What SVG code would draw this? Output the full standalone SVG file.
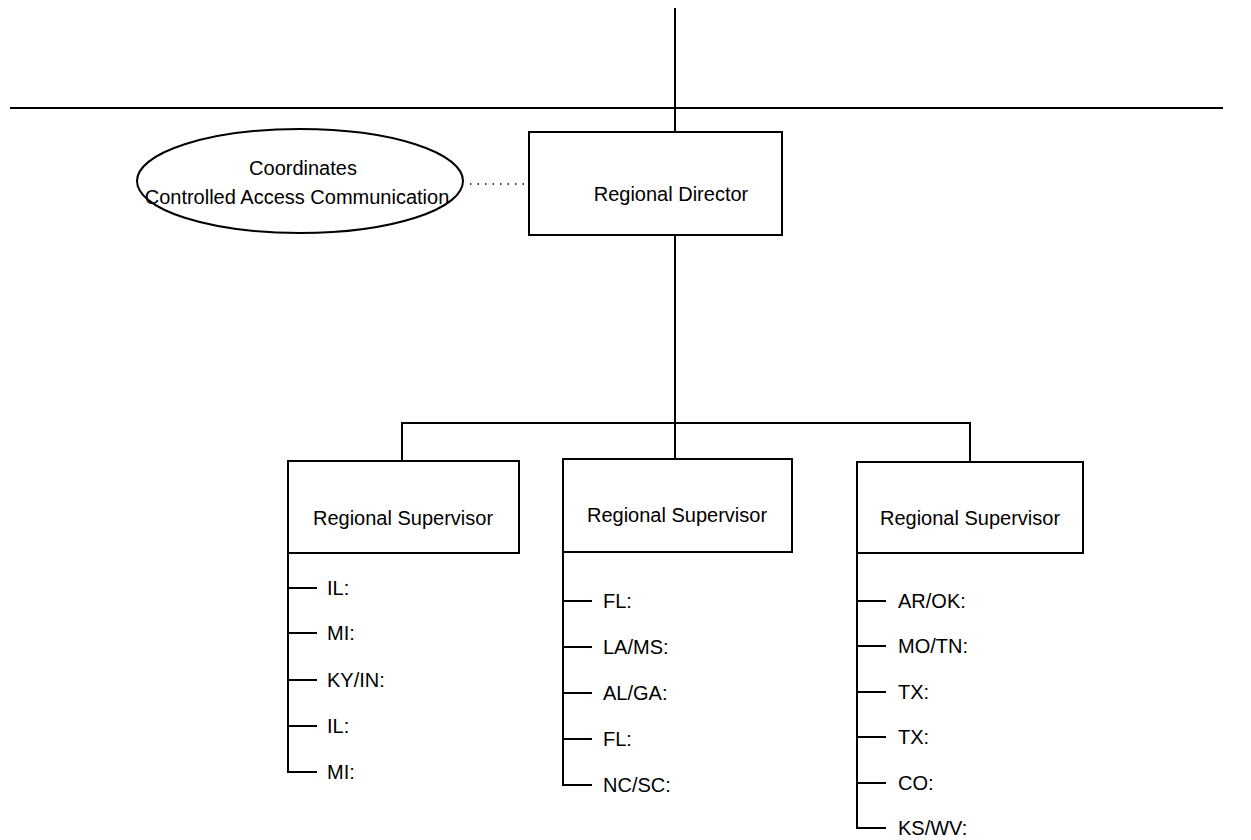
<svg xmlns="http://www.w3.org/2000/svg" width="1251" height="840" viewBox="0 0 1251 840">
<style>
.ln{stroke:#000;stroke-width:2;fill:none}
.bx{stroke:#000;stroke-width:2;fill:#fff}
.t{font-family:"Liberation Sans",Arial,sans-serif;font-size:20px;fill:#000}
.c{text-anchor:middle}
.dot{stroke:#000;stroke-width:1.5;stroke-dasharray:1.5 6;fill:none}
</style>
<rect width="1251" height="840" fill="#fff"/>
<g id="connectors">
<line class="ln" x1="675" y1="8" x2="675" y2="132"/>
<line class="ln" x1="10" y1="108" x2="1223" y2="108"/>
<line class="dot" x1="470" y1="184" x2="524" y2="184"/>
<line class="ln" x1="675" y1="235" x2="675" y2="459"/>
<polyline class="ln" points="402,461 402,423 970,423 970,462"/>
<polyline class="ln" points="288,553 288,772 317,772"/>
<line class="ln" x1="288" y1="588" x2="317" y2="588"/>
<line class="ln" x1="288" y1="633" x2="317" y2="633"/>
<line class="ln" x1="288" y1="680" x2="317" y2="680"/>
<line class="ln" x1="288" y1="726" x2="317" y2="726"/>
<polyline class="ln" points="563,552 563,785 592,785"/>
<line class="ln" x1="563" y1="601" x2="592" y2="601"/>
<line class="ln" x1="563" y1="647" x2="592" y2="647"/>
<line class="ln" x1="563" y1="693" x2="592" y2="693"/>
<line class="ln" x1="563" y1="739" x2="592" y2="739"/>
<polyline class="ln" points="857,553 857,828 886,828"/>
<line class="ln" x1="857" y1="601" x2="886" y2="601"/>
<line class="ln" x1="857" y1="646" x2="886" y2="646"/>
<line class="ln" x1="857" y1="692" x2="886" y2="692"/>
<line class="ln" x1="857" y1="737" x2="886" y2="737"/>
<line class="ln" x1="857" y1="783" x2="886" y2="783"/>
</g>
<g id="ellipse-coordinates">
<ellipse class="bx" cx="300" cy="181" rx="163" ry="52"/>
<text class="t c" x="303" y="175">Coordinates</text>
<text class="t c" x="297" y="204">Controlled Access Communication</text>
</g>
<g id="regional-director">
<rect class="bx" x="529" y="132" width="253" height="103"/>
<text class="t c" x="671" y="201">Regional Director</text>
</g>
<g id="supervisor-1">
<rect class="bx" x="288" y="461" width="231" height="92"/>
<text class="t c" x="403" y="525">Regional Supervisor</text>
<text class="t" x="327" y="595">IL:</text>
<text class="t" x="327" y="640">MI:</text>
<text class="t" x="327" y="687">KY/IN:</text>
<text class="t" x="327" y="733">IL:</text>
<text class="t" x="327" y="779">MI:</text>
</g>
<g id="supervisor-2">
<rect class="bx" x="563" y="459" width="229" height="93"/>
<text class="t c" x="677" y="522">Regional Supervisor</text>
<text class="t" x="603" y="608">FL:</text>
<text class="t" x="603" y="654">LA/MS:</text>
<text class="t" x="603" y="700">AL/GA:</text>
<text class="t" x="603" y="746">FL:</text>
<text class="t" x="603" y="792">NC/SC:</text>
</g>
<g id="supervisor-3">
<rect class="bx" x="857" y="462" width="226" height="91"/>
<text class="t c" x="970" y="525">Regional Supervisor</text>
<text class="t" x="898" y="608">AR/OK:</text>
<text class="t" x="898" y="653">MO/TN:</text>
<text class="t" x="898" y="699">TX:</text>
<text class="t" x="898" y="744">TX:</text>
<text class="t" x="898" y="790">CO:</text>
<text class="t" x="898" y="835">KS/WV:</text>
</g>
</svg>
